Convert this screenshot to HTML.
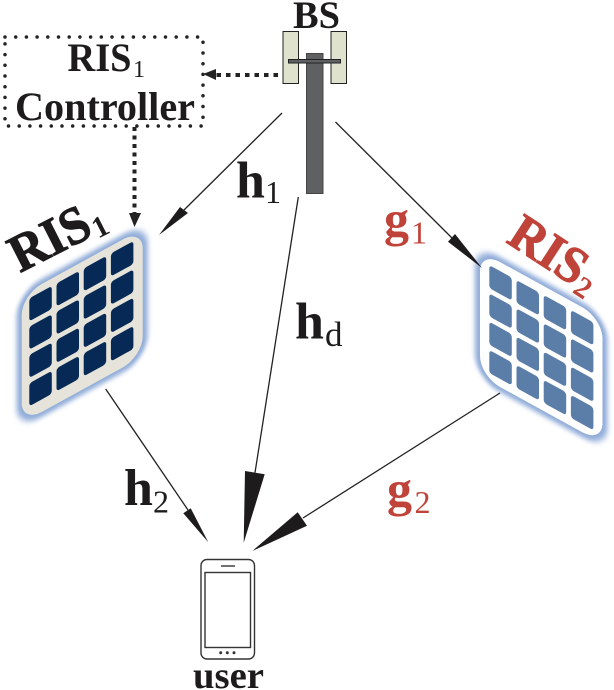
<!DOCTYPE html>
<html><head><meta charset="utf-8"><style>
html,body{margin:0;padding:0;background:#fff;width:614px;height:690px;overflow:hidden}
svg{display:block}
text{font-family:"Liberation Serif",serif}
.b{font-weight:bold}
</style></head><body>
<svg width="614" height="690" viewBox="0 0 614 690" xmlns="http://www.w3.org/2000/svg">
<defs>
<filter id="gl" x="-20%" y="-20%" width="140%" height="140%"><feGaussianBlur stdDeviation="2.6"/></filter>
<g id="t1"><rect x="0" y="0" width="22.500" height="23" rx="3"/></g>
<g id="grid">
<use href="#t1" x="0" y="0"/><use href="#t1" x="0" y="28.300"/><use href="#t1" x="0" y="56.600"/><use href="#t1" x="0" y="84.900"/>
<use href="#t1" x="27.200" y="0"/><use href="#t1" x="27.200" y="28.300"/><use href="#t1" x="27.200" y="56.600"/><use href="#t1" x="27.200" y="84.900"/>
<use href="#t1" x="54.400" y="0"/><use href="#t1" x="54.400" y="28.300"/><use href="#t1" x="54.400" y="56.600"/><use href="#t1" x="54.400" y="84.900"/>
<use href="#t1" x="81.600" y="0"/><use href="#t1" x="81.600" y="28.300"/><use href="#t1" x="81.600" y="56.600"/><use href="#t1" x="81.600" y="84.900"/>
</g>
</defs>

<!-- tower -->
<rect x="283" y="31.500" width="15.500" height="52" fill="#dfe3cd" stroke="#222" stroke-width="1"/>
<rect x="331" y="31.500" width="15.500" height="52" fill="#dfe3cd" stroke="#222" stroke-width="1"/>
<rect x="306.500" y="53.500" width="16.500" height="140" fill="#5f6062" stroke="#444" stroke-width="1"/>
<rect x="288.500" y="59.500" width="52" height="3.500" fill="#5f6062" stroke="#222" stroke-width="1"/>
<text class="b" x="293" y="28" font-size="39" textLength="47" lengthAdjust="spacingAndGlyphs" fill="#1d1b1c">BS</text>

<!-- controller -->
<rect x="5" y="37" width="198" height="89" fill="none" stroke="#222" stroke-width="3.500" stroke-linecap="round" stroke-dasharray="0 10.700"/>
<text class="b" transform="translate(67.500 71) scale(.96 1)" font-size="40" fill="#1d1b1c">RIS</text>
<text x="133" y="77" font-size="24" fill="#1d1b1c">1</text>
<text class="b" x="15" y="120" font-size="40" textLength="180" lengthAdjust="spacingAndGlyphs" fill="#1d1b1c">Controller</text>
<line x1="278" y1="75" x2="214" y2="75" stroke="#222" stroke-width="4" stroke-dasharray="4.500 5"/>
<polygon points="203,74 216,69 216,80" fill="#222"/>
<line x1="134.500" y1="127" x2="134.500" y2="214" stroke="#222" stroke-width="4" stroke-dasharray="4 4.500"/>
<polygon points="134.500,227 129,213 141,213" fill="#222"/>

<!-- RIS1 -->
<g transform="matrix(1 -0.55 0 1 21.700 295)">
<rect x="-1" y="-1" width="123" height="130" rx="20" fill="#8fabd8" stroke="#8fabd8" stroke-width="8" filter="url(#gl)"/>
<rect x="0" y="0" width="121" height="128" rx="20" fill="#e6e4da"/>
<use href="#grid" x="7.600" y="7.500" fill="#062a55"/>
</g>
<g transform="translate(20 273) rotate(-27)" fill="#1d1b1c">
<text class="b" transform="scale(.95 1)" font-size="53" stroke="#1d1b1c" stroke-width="1">RIS</text>
<text class="b" x="85" y="5" font-size="30">1</text>
</g>

<!-- RIS2 -->
<g transform="matrix(1 0.55 0 1 480 251)">
<rect x="-1" y="-1" width="124.500" height="127" rx="20" fill="#8fabd8" stroke="#8fabd8" stroke-width="8" filter="url(#gl)"/>
<rect x="0" y="0" width="122.500" height="125" rx="20" fill="#fff"/>
<use href="#grid" x="9.300" y="9" fill="#5b7ea8"/>
</g>
<g transform="translate(505 241.700) rotate(33)" fill="#c0433a">
<text class="b" transform="scale(.95 1)" font-size="52" stroke="#c0433a" stroke-width="1">RIS</text>
<text class="b" x="83" y="6" font-size="30">2</text>
</g>

<!-- connectors -->
<g stroke="#222" stroke-width="1.300" fill="none">
<line x1="282" y1="113" x2="184" y2="210"/>
<line x1="335.500" y1="122" x2="452" y2="238"/>
<line x1="298.300" y1="197" x2="255" y2="472.700"/>
<line x1="105.700" y1="389" x2="188" y2="510"/>
<line x1="500" y1="393" x2="303" y2="518"/>
</g>
<g fill="#1d1b1c">
<polygon points="159,235 180,207 188,213"/>
<polygon points="482,268 448,241.700 455,234"/>
<polygon points="243.700,542.700 245,471 264.700,474.300"/>
<polygon points="208.300,542.300 183.300,513.300 190.700,508.300"/>
<polygon points="252.300,551 297.700,512.300 307,525.700"/>
</g>

<!-- labels -->
<text class="b" x="236" y="197.300" font-size="52" fill="#1d1b1c">h</text>
<text x="265" y="203" font-size="32" fill="#1d1b1c">1</text>
<text class="b" x="295" y="338.300" font-size="52" fill="#1d1b1c">h</text>
<text x="325" y="346" font-size="35" fill="#1d1b1c">d</text>
<text class="b" x="124" y="505" font-size="52" fill="#1d1b1c">h</text>
<text x="153" y="512.700" font-size="32" fill="#1d1b1c">2</text>
<text class="b" x="384" y="236" font-size="50" fill="#c0433a">g</text>
<text x="411" y="243.300" font-size="32" fill="#c0433a">1</text>
<text class="b" x="387" y="506" font-size="50" fill="#c0433a">g</text>
<text x="414.500" y="513" font-size="32" fill="#c0433a">2</text>

<!-- phone -->
<rect x="201" y="559.500" width="53.500" height="99.500" rx="6" fill="#fff" stroke="#333" stroke-width="1.400"/>
<rect x="205" y="572.500" width="45.500" height="75" fill="#fff" stroke="#333" stroke-width="1.400"/>
<line x1="221" y1="566" x2="235" y2="566" stroke="#333" stroke-width="1.400"/>
<circle cx="220.700" cy="652.700" r="1.500" fill="#333"/>
<circle cx="227.300" cy="652.700" r="1.500" fill="#333"/>
<circle cx="234" cy="652.700" r="1.500" fill="#333"/>
<text class="b" x="193" y="688" font-size="38" textLength="71" lengthAdjust="spacingAndGlyphs" fill="#1d1b1c">user</text>
</svg>
</body></html>
